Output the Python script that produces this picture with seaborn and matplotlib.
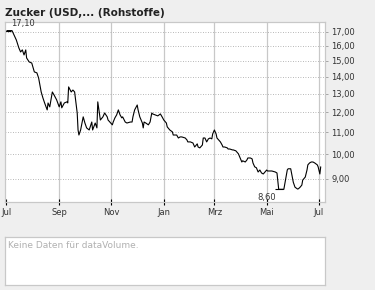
import numpy as np
import pandas as pd
import matplotlib
matplotlib.use("Agg")
import matplotlib.pyplot as plt
import matplotlib.ticker as mticker
import seaborn as sns

title = "Zucker (USD,... (Rohstoffe)"
start_date = "2006-07-01"
day_offsets = [1, 7, 12, 15, 17, 19, 21, 23, 24, 27, 30, 33, 36, 38, 41, 43, 45, 48, 49, 51,
               54, 56, 59, 62, 64, 65, 68, 71, 72, 73, 76, 78, 80, 83, 84, 85, 87, 90, 92, 94,
               97, 100, 101, 104, 106, 107, 110, 113, 115, 118, 119, 121, 124, 125, 127, 129, 131, 133, 135, 136,
               139, 141, 145, 147, 148, 150, 153, 154, 156, 159, 160, 161, 163, 166, 168, 170, 171, 174, 177, 180,
               182, 184, 187, 188, 191, 194, 195, 199, 201, 203, 205, 209, 211, 212, 215, 218, 220, 223, 224, 226,
               229, 230, 232, 234, 236, 238, 240, 241, 243, 245, 246, 250, 252, 253, 255, 258, 259, 261, 264, 265,
               268, 271, 273, 275, 276, 279, 281, 282, 285, 287, 288, 290, 292, 294, 296, 298, 300, 302, 304, 305,
               310, 314, 316, 318, 324, 328, 329, 332, 335, 337, 340, 341, 343, 345, 346, 349, 351, 352, 354, 356,
               358, 360, 363, 364, 366, 367]
prices = [17.10, 17.10, 16.42, 15.86, 15.59, 15.73, 15.39, 15.73, 15.19, 14.93, 14.86, 14.30, 14.24, 13.93, 13.11, 12.78, 12.50, 12.13, 12.50, 12.29,
          13.11, 12.94, 12.67, 12.29, 12.56, 12.24, 12.50, 12.56, 12.50, 13.40, 13.11, 13.22, 13.11, 11.97, 11.12, 10.88, 11.12, 11.77, 11.46, 11.22,
          11.12, 11.51, 11.12, 11.46, 11.22, 12.56, 11.61, 11.77, 11.97, 11.77, 11.61, 11.51, 11.37, 11.51, 11.72, 11.87, 12.13, 11.87, 11.72, 11.77,
          11.51, 11.46, 11.51, 11.51, 11.77, 12.13, 12.39, 12.13, 11.77, 11.46, 11.22, 11.51, 11.46, 11.37, 11.51, 11.97, 11.92, 11.87, 11.82, 11.92,
          11.77, 11.61, 11.46, 11.27, 11.12, 11.03, 10.88, 10.88, 10.74, 10.79, 10.79, 10.74, 10.65, 10.56, 10.56, 10.51, 10.33, 10.47, 10.33, 10.29,
          10.42, 10.74, 10.74, 10.56, 10.70, 10.74, 10.70, 10.93, 11.12, 10.93, 10.74, 10.56, 10.42, 10.33, 10.33, 10.29, 10.24, 10.24, 10.20, 10.20,
          10.16, 10.03, 9.85, 9.68, 9.73, 9.68, 9.77, 9.85, 9.85, 9.81, 9.64, 9.48, 9.44, 9.27, 9.35, 9.23, 9.19, 9.27, 9.35, 9.31,
          9.31, 9.27, 9.23, 8.60, 8.60, 9.35, 9.40, 9.40, 8.87, 8.68, 8.61, 8.62, 8.68, 8.76, 8.95, 9.07, 9.35, 9.56, 9.64, 9.68,
          9.68, 9.64, 9.56, 9.48, 9.19, 9.48]
y_ticks = [9, 10, 11, 12, 13, 14, 15, 16, 17]
month_ticks = ["2006-07-01", "2006-09-01", "2006-11-01", "2007-01-01", "2007-03-01", "2007-05-01", "2007-07-01"]
month_labels = ["Jul", "Sep", "Nov", "Jan", "Mrz", "Mai", "Jul"]
max_label = "17,10"
min_label = "8,60"
empty_text = "Keine Daten für dataVolume."

sns.set_theme(style="white")
plt.rcParams["font.family"] = ["DejaVu Sans"]

W, H = 375, 290
fig = plt.figure(figsize=(W / 100, H / 100), dpi=100, facecolor="#efefef")
ax = fig.add_axes([5 / W, 1 - 202 / H, 320 / W, 180 / H])
ax.set_facecolor("white")

start = pd.Timestamp(start_date)
df = pd.DataFrame({"date": start + pd.to_timedelta(day_offsets, unit="D"), "price": prices})
sns.lineplot(data=df, x="date", y="price", ax=ax, color="black", lw=0.8)

ax.set_yscale("log")
ax.set_ylim(8.14, 17.75)
ax.set_xlim(start - pd.Timedelta(days=1.2), start + pd.Timedelta(days=372))
ax.set_xlabel("")
ax.set_ylabel("")

ax.yaxis.tick_right()
ax.set_yticks(y_ticks)
ax.set_yticklabels([f"{v:.2f}".replace(".", ",") for v in y_ticks])
ax.yaxis.set_minor_locator(mticker.NullLocator())
xt = pd.to_datetime(month_ticks)
ax.set_xticks(xt)
ax.set_xticklabels(month_labels)

ax.grid(axis="y", linestyle=(0, (1, 2)), color="#a0a0a0", lw=0.6)
for d in xt[1:]:
    ax.axvline(d, color="#c8c8c8", lw=0.9, zorder=0)

ax.tick_params(axis="y", which="major", length=2, color="#999999", width=0.6,
               labelsize=6, labelcolor="#333333", pad=2.5, direction="out", right=True, left=False)
ax.tick_params(axis="x", which="major", length=4, color="black", width=0.8,
               labelsize=6, labelcolor="#333333", pad=2.5, direction="inout", bottom=True)
for s in ax.spines.values():
    s.set_color("#c8c8c8")
    s.set_linewidth(0.9)

# max / min markers
imax = int(np.argmax(prices))
imin = int(np.argmin(prices))
for i, lab, off, ha, va in [(imax, max_label, (3, 2), "left", "bottom"),
                            (imin, min_label, (-2, -3), "right", "top")]:
    ax.plot(df["date"][i], prices[i], marker="_", color="black", ms=6, mew=0.8)
    ax.annotate(lab, (df["date"][i], prices[i]), xytext=off, textcoords="offset points",
                ha=ha, va=va, fontsize=6, color="#333333")

fig.text(5 / W, 1 - 12.5 / H, title, fontsize=7.5, fontweight="bold", color="#222222",
         ha="left", va="center")

ax2 = fig.add_axes([5 / W, 5 / H, 320 / W, 48 / H])
ax2.set_facecolor("white")
ax2.set_xticks([])
ax2.set_yticks([])
for s in ax2.spines.values():
    s.set_color("#c8c8c8")
    s.set_linewidth(0.9)
ax2.text(3 / 320, 1 - 4 / 48, empty_text, transform=ax2.transAxes, ha="left", va="top",
         fontsize=6.5, color="#b0b0b0")

fig.savefig("out.png", dpi=100, facecolor=fig.get_facecolor())
